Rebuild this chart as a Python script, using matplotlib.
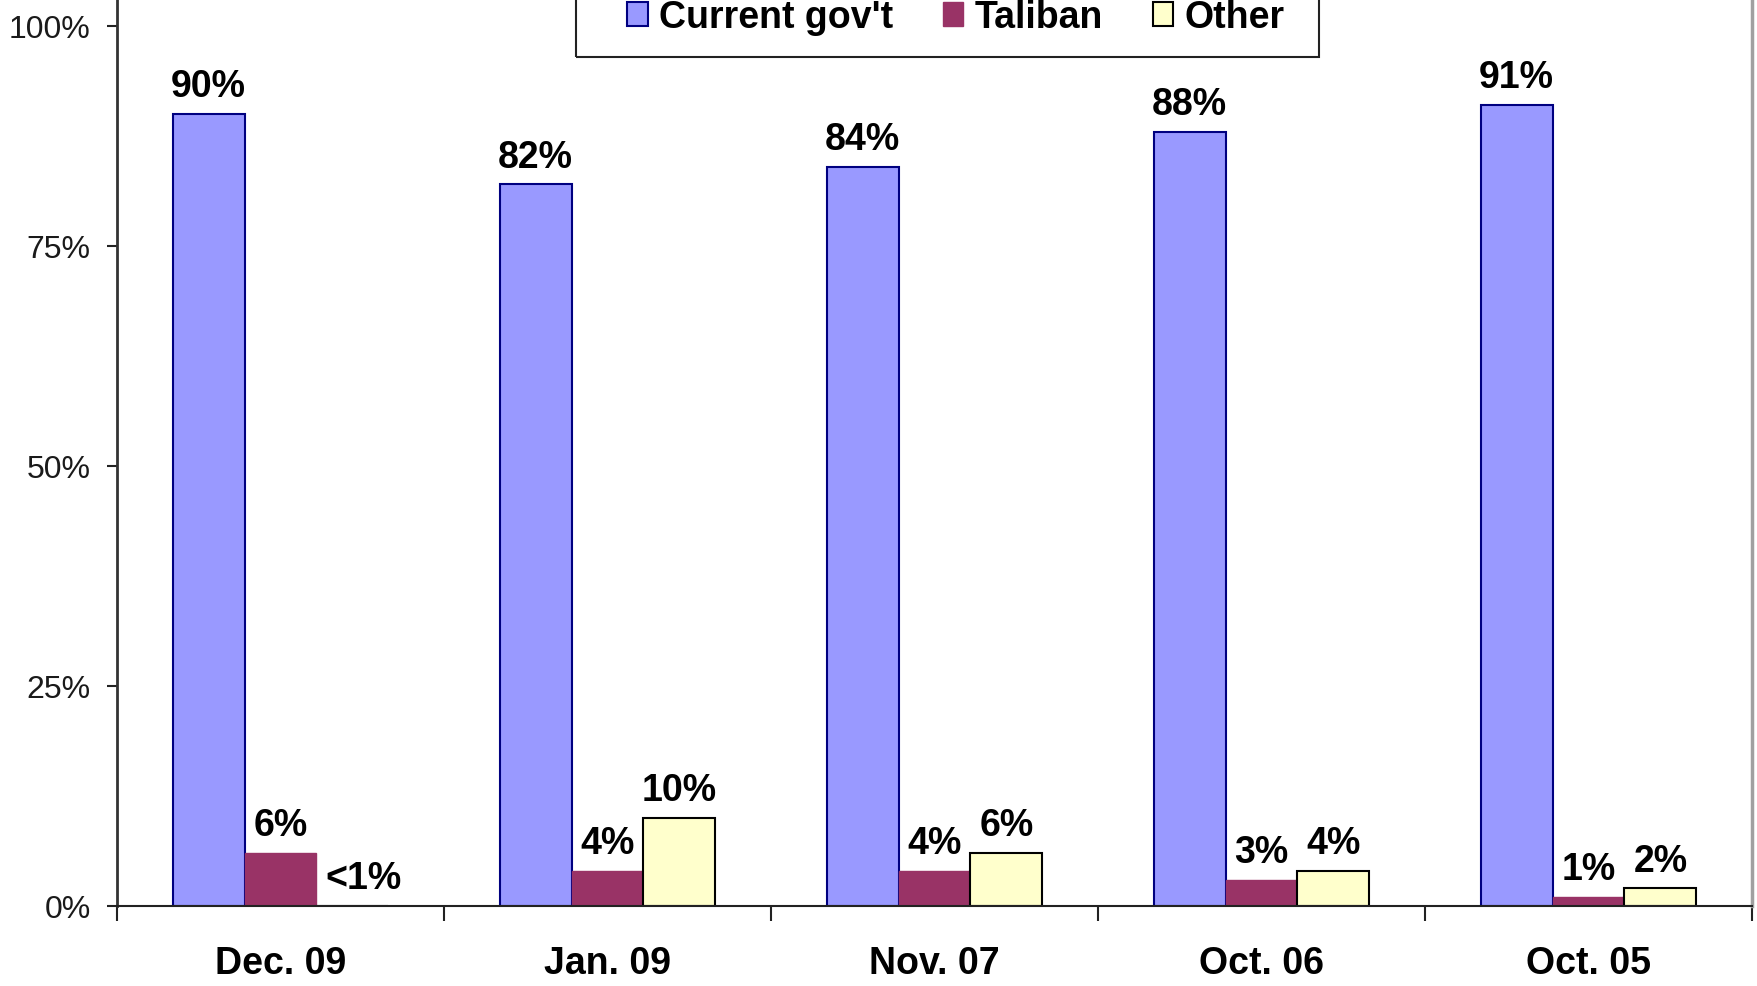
import numpy as np
import matplotlib.pyplot as plt
from matplotlib.patches import Rectangle

plt.rcParams['font.family'] = ['Liberation Sans', 'DejaVu Sans']

# survey waves and values (%)
waves = ['Dec. 09', 'Jan. 09', 'Nov. 07', 'Oct. 06', 'Oct. 05']
current_govt = [90, 82, 84, 88, 91]
taliban = [6, 4, 4, 3, 1]
other = [0, 10, 6, 4, 2]
other_labels = ['<1%', '10%', '6%', '4%', '2%']

W, H = 1758, 987
fig = plt.figure(figsize=(W / 100, H / 100), dpi=100)
ax = fig.add_axes([117 / W, 1 - 907 / H, 1635 / W, 907 / H])

x = np.arange(len(waves))
bw = 0.22

b1 = ax.bar(x - bw, current_govt, bw, color='#9999FF', edgecolor='#000080', linewidth=1.5,
            label="Current gov't")
b2 = ax.bar(x, taliban, bw, color='#993366', edgecolor='#993366', linewidth=1,
            label='Taliban')
b3 = ax.bar(x + bw, other, bw, color='#FFFFCC', edgecolor='black', linewidth=1.5,
            label='Other')

lab_kw = dict(textcoords='offset points', ha='center', va='bottom',
              fontsize=27, fontweight='bold')
for i in range(len(waves)):
    ax.annotate('%d%%' % current_govt[i], (x[i] - bw, current_govt[i]), xytext=(0, 7), **lab_kw)
    ax.annotate('%d%%' % taliban[i], (x[i], taliban[i]), xytext=(0, 7), **lab_kw)
    # the "<1%" label sits a little right of its (empty) bar
    dx = 8 if other[i] == 0 else 0
    ax.annotate(other_labels[i], (x[i] + bw, other[i]), xytext=(dx, 7), **lab_kw)

ax.set_xlim(-0.5, len(waves) - 0.5)
ax.set_ylim(0, 907 / 8.8)
ax.set_yticks([0, 25, 50, 75, 100])
ax.set_yticklabels(['0%', '25%', '50%', '75%', '100%'])
ax.tick_params(axis='y', direction='out', length=7, width=1.5, pad=12, labelsize=23,
               color='#222222', labelcolor='#1a1a1a')

# category ticks sit between groups, labels at centres
ax.set_xticks(np.arange(len(waves) + 1) - 0.5)
ax.set_xticklabels([])
ax.set_xticks(x, minor=True)
ax.set_xticklabels(waves, minor=True, fontsize=27, fontweight='bold')
ax.tick_params(axis='x', which='major', direction='out', length=11, width=1.5, color='#222222')
ax.tick_params(axis='x', which='minor', length=0, pad=28)

ax.spines['top'].set_visible(False)
ax.spines['left'].set_color('#333333')
ax.spines['left'].set_linewidth(2)
ax.spines['bottom'].set_color('#222222')
ax.spines['bottom'].set_linewidth(1.5)
ax.spines['right'].set_color('#A0A0A0')
ax.spines['right'].set_linewidth(2.5)

# legend box runs off the top of the picture
fig.patches.append(Rectangle((576 / W, 1 - 58 / H), (1319 - 576) / W, 0.2,
                             transform=fig.transFigure, fill=False, edgecolor='#222222',
                             linewidth=1.5, clip_on=False))
fig.legend(handles=[b1, b2, b3], loc='center', bbox_to_anchor=(956 / W, 1 - 18 / H),
           ncol=3, frameon=False, handlelength=0.55, handleheight=0.6,
           handletextpad=0.3, columnspacing=1.32, borderpad=0.1,
           prop={'weight': 'bold', 'size': 27})

fig.savefig('out.png', dpi=100)
